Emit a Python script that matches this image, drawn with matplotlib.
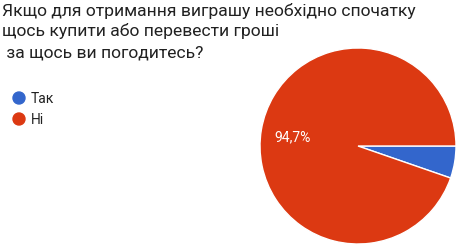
import matplotlib
matplotlib.use("Agg")
import matplotlib.pyplot as plt

categories = ["Так", "Ні"]
values = [5.3, 94.7]
colors = ["#3366CC", "#DC3912"]
title_lines = ["Якщо для отримання виграшу необхідно спочатку",
               "щось купити або перевести гроші",
               " за щось ви погодитесь?"]

W, H = 468, 253
fig = plt.figure(figsize=(W/100, H/100), dpi=100)
plt.rcParams['font.family'] = ['Roboto', 'DejaVu Sans']

def px(x, y):
    return x / W, 1 - y / H

# title
for i, (line, yb) in enumerate(zip(title_lines, [16, 36, 57])):
    fig.text(*px(2, yb), line, fontsize=12.6, color="#212121", va="baseline", ha="left")

# pie
cx, cy, r = 358, 147, 98
ax = fig.add_axes([(cx - r)/W, (H - cy - r)/H, 2*r/W, 2*r/H])
wedges, _ = ax.pie(values, colors=colors, startangle=0, counterclock=False,
                   wedgeprops=dict(edgecolor="white", linewidth=1))
ax.set_aspect("equal")
ax.set_xlim(-1, 1); ax.set_ylim(-1, 1)
# label for the large slice
ax.text((293 - cx)/r, -(137 - cy)/r, f"{values[1]:.1f}%".replace(".", ","),
        color="white", fontsize=10, ha="center", va="center")

# legend
for i, (cat, col) in enumerate(zip(categories, colors)):
    ly = 99 + i * 21
    fig.patches.append(matplotlib.patches.Ellipse(px(19, ly), 12/W, 12/H, color=col,
                                                  transform=fig.transFigure, figure=fig))
    fig.text(*px(31, ly), cat, fontsize=10, color="#222222", va="center", ha="left")

fig.savefig("out.png", dpi=100)
